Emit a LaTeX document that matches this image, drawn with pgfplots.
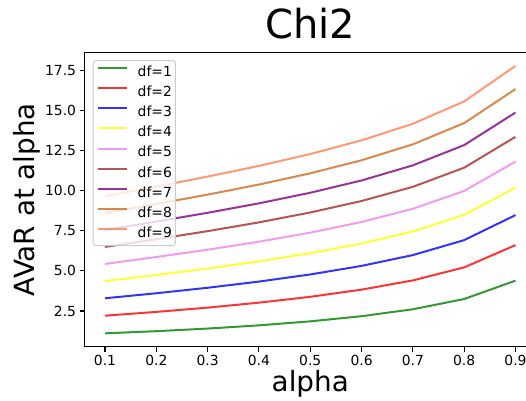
\documentclass[border=0pt]{standalone}
\usepackage{fontspec}
\setmainfont{DejaVu Sans}
\usepackage{pgfplots}
\usepackage{pgfplotstable}
\pgfplotsset{compat=1.18}
\definecolor{mgreen}{RGB}{0,128,0}
\definecolor{mred}{RGB}{255,0,0}
\definecolor{mblue}{RGB}{0,0,255}
\definecolor{myellow}{RGB}{255,255,0}
\definecolor{mviolet}{RGB}{238,130,238}
\definecolor{mbrown}{RGB}{165,42,42}
\definecolor{mpurple}{RGB}{128,0,128}
\definecolor{mchoc}{RGB}{210,105,30}
\definecolor{mcoral}{RGB}{255,127,80}
\pgfplotstableread{
alpha d1 d2 d3 d4 d5 d6 d7 d8 d9
0.1 1.111 2.211 3.295 4.369 5.435 6.494 7.549 8.600 9.647
0.2 1.245 2.446 3.608 4.745 5.866 6.974 8.074 9.167 10.253
0.3 1.407 2.713 3.950 5.148 6.321 7.477 8.620 9.752 10.875
0.4 1.608 3.022 4.335 5.595 6.820 8.024 9.210 10.381 11.541
0.5 1.857 3.386 4.779 6.104 7.384 8.639 9.868 11.081 12.281
0.6 2.178 3.833 5.313 6.706 8.048 9.354 10.634 11.893 13.135
0.7 2.611 4.408 5.986 7.461 8.871 10.238 11.576 12.885 14.170
0.8 3.249 5.219 6.918 8.489 9.984 11.430 12.837 14.209 15.557
0.9 4.393 6.605 8.476 10.190 11.808 13.351 14.865 16.328 17.773
}\data
\begin{document}
\begin{tikzpicture}
\begin{axis}[
  name=ax,
  at={(84.5pt,53.3pt)}, anchor=south west,
  scale only axis, width=451.5pt, height=294.2pt,
  xmin=0.06, xmax=0.94, ymin=0.2775, ymax=18.606,
  xtick={0.1,0.2,0.3,0.4,0.5,0.6,0.7,0.8,0.9},
  ytick={2.5,5,7.5,10,12.5,15,17.5},
  xtick pos=left, ytick pos=left,
  tick align=outside, major tick length=4.9pt,
  every tick/.style={black, line width=1.1pt},
  axis line style={black, line width=1.1pt},
  /pgf/number format/assume math mode=true,
  xticklabel style={font=\fontsize{13.9}{16}\selectfont, /pgf/number format/.cd, fixed, fixed zerofill, precision=1},
  yticklabel style={font=\fontsize{13.9}{16}\selectfont, /pgf/number format/.cd, fixed, fixed zerofill, precision=1},
  title={Chi2},
  title style={font=\fontsize{40}{48}\selectfont, at={(axis description cs:0.5,1)}, anchor=base, yshift=8.3pt},
  xlabel={alpha},
  x label style={font=\fontsize{27.8}{32}\selectfont, at={(axis description cs:0.5,0)}, anchor=base, yshift=-45pt},
  ylabel={AVaR at alpha},
  y label style={font=\fontsize{27.8}{32}\selectfont, at={([xshift=-49.5pt]axis description cs:0,0.5)}, rotate=0, anchor=base},
  legend cell align=left,
  legend image code/.code={\draw[#1] (0pt,4.5pt) -- (29pt,4.5pt);},
  legend style={at={(0.0182,0.9745)}, anchor=north west,
    draw=black!20, line width=1pt, rounded corners=3pt, fill=white, fill opacity=0.8, text opacity=1,
    font=\fontsize{13.9}{16}\selectfont,
    nodes={inner sep=0pt, text height=11pt, text depth=3.5pt},
    row sep=5.7pt, column sep=10pt, inner xsep=3.5pt, inner ysep=4.5pt},
  every axis plot/.append style={line width=2pt, opacity=0.8},
]
\addplot[mgreen] table[x=alpha,y=d1]{\data}; \addlegendentry{df=1}
\addplot[mred] table[x=alpha,y=d2]{\data}; \addlegendentry{df=2}
\addplot[mblue] table[x=alpha,y=d3]{\data}; \addlegendentry{df=3}
\addplot[myellow] table[x=alpha,y=d4]{\data}; \addlegendentry{df=4}
\addplot[mviolet] table[x=alpha,y=d5]{\data}; \addlegendentry{df=5}
\addplot[mbrown] table[x=alpha,y=d6]{\data}; \addlegendentry{df=6}
\addplot[mpurple] table[x=alpha,y=d7]{\data}; \addlegendentry{df=7}
\addplot[mchoc] table[x=alpha,y=d8]{\data}; \addlegendentry{df=8}
\addplot[mcoral] table[x=alpha,y=d9]{\data}; \addlegendentry{df=9}
\end{axis}
\pgfresetboundingbox
\path (0pt,0pt) rectangle (526pt,400pt);
\end{tikzpicture}
\end{document}
